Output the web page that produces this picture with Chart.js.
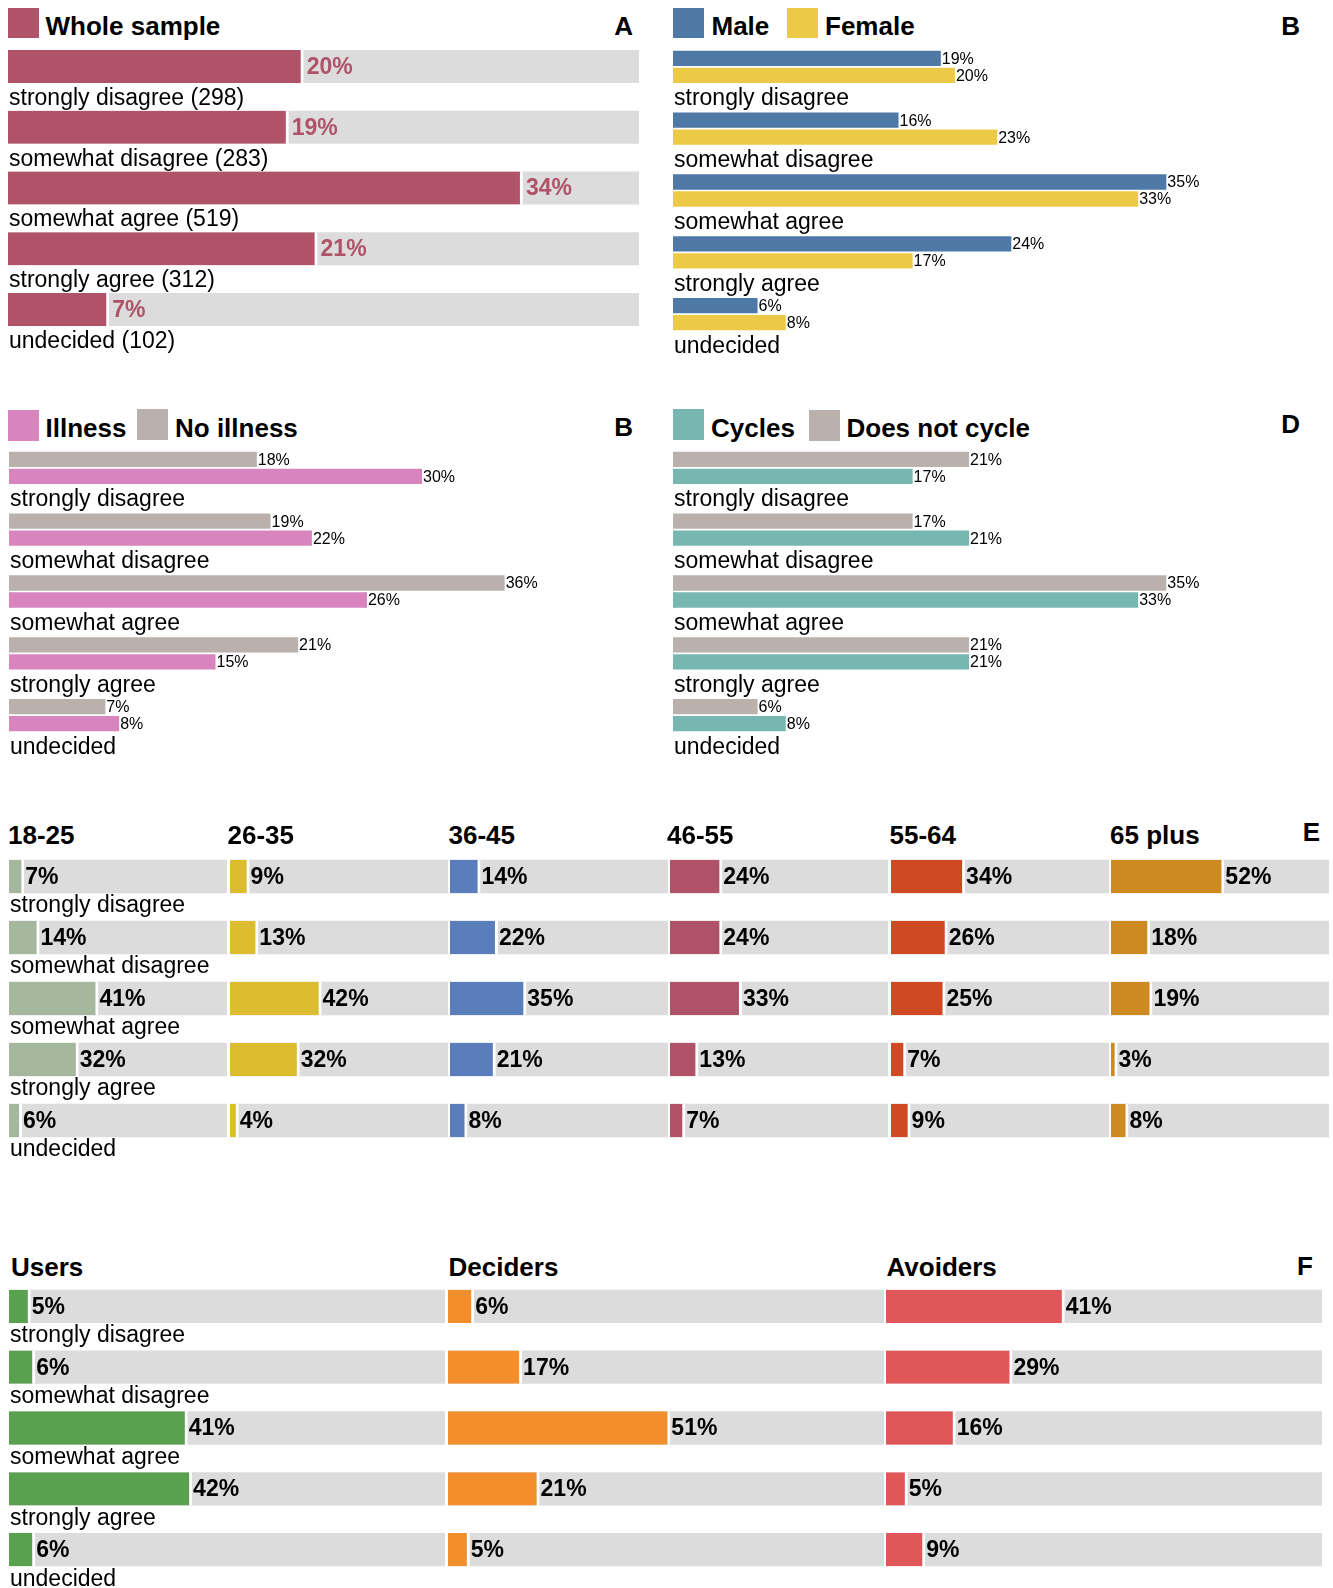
<!DOCTYPE html>
<html>
<head>
<meta charset="utf-8">
<script src="https://cdn.jsdelivr.net/npm/chart.js@4/dist/chart.umd.min.js"></script>
<style>
  html, body { margin: 0; padding: 0; background: #fff; }
  #page { position: relative; width: 1333px; height: 1588px; overflow: hidden;
          font-family: "Liberation Sans", Arial, Helvetica, sans-serif; color: #000; }
  .sw { position: absolute; }
  .tx { position: absolute; white-space: nowrap; height: 30px; line-height: 30px; }
  canvas { position: absolute; }
</style>
</head>
<body>
<div id="page"></div>
<script>
// ------------------------
// Data
// ------------------------
const CATEGORIES = ["strongly disagree", "somewhat disagree", "somewhat agree", "strongly agree", "undecided"];

// A - whole sample (respondent counts)
const wholeCounts = [298, 283, 519, 312, 102];
const WHOLE_AXIS_MAX = 636;

// B - gender (%)
const male = [19, 16, 35, 24, 6];
const female = [20, 23, 33, 17, 8];

// C - illness (%)
const noIllness = [18, 19, 36, 21, 7];
const illness = [30, 22, 26, 15, 8];

// D - cycling (%)
const doesNotCycle = [21, 17, 35, 21, 6];
const cycles = [17, 21, 33, 21, 8];

// E - age groups (%)
const AGE_GROUPS = ["18-25", "26-35", "36-45", "46-55", "55-64", "65 plus"];
const age18to25 = [7, 14, 41, 32, 6];
const age26to35 = [9, 13, 42, 32, 4];
const age36to45 = [14, 22, 35, 21, 8];
const age46to55 = [24, 24, 33, 13, 7];
const age55to64 = [34, 26, 25, 7, 9];
const age65plus = [52, 18, 19, 3, 8];

// F - user types (%)
const USER_TYPES = ["Users", "Deciders", "Avoiders"];
const users = [5, 6, 41, 42, 6];
const deciders = [6, 17, 51, 21, 5];
const avoiders = [41, 29, 16, 5, 9];

// ------------------------
// Styles
// ------------------------
const FONT = '"Liberation Sans", Arial, Helvetica, sans-serif';
const CAT_FONT = "23px " + FONT;
const BIG_PCT_FONT = "bold 23px " + FONT;
const SMALL_PCT_FONT = "16px " + FONT;
const TRACK = "#dcdcdc";
const WHOLE_COLOR = "#b05268";
const MALE_COLOR = "#4e79a7";
const FEMALE_COLOR = "#edc948";
const ILLNESS_COLOR = "#d884be";
const NO_COLOR = "#bab0ac";
const CYCLES_COLOR = "#76b7b2";
const AGE_COLORS = ["#a5b89e", "#dbbd2f", "#5a7dbc", "#b05268", "#cf4a23", "#ce8a20"];
const TYPE_COLORS = ["#59a14f", "#f28e2b", "#e15759"];

const page = document.getElementById("page");

// ------------------------
// Plugins
// ------------------------
const valueLabels = {
    id: "valueLabels",
    afterDatasetsDraw(chart) {
        const ctx = chart.ctx;
        chart.data.datasets.forEach((ds, i) => {
            if (!ds.valueLabels) return;
            const meta = chart.getDatasetMeta(i);
            ctx.save();
            ctx.font = ds.labelFont;
            ctx.fillStyle = ds.labelColor || "#000";
            ctx.textBaseline = "middle";
            meta.data.forEach((bar, j) => {
                ctx.fillText(ds.valueLabels[j], bar.x + (ds.labelGap || 2), bar.y + 1);
            });
            ctx.restore();
        });
    }
};

const categoryLabels = {
    id: "categoryLabels",
    afterDatasetsDraw(chart, args, opts) {
        if (!opts.show) return;
        const ctx = chart.ctx;
        ctx.save();
        ctx.font = CAT_FONT;
        ctx.fillStyle = "#000";
        ctx.textBaseline = "middle";
        chart.data.labels.forEach((label, j) => {
            let bottom = 0;
            chart.data.datasets.forEach((ds, i) => {
                const bar = chart.getDatasetMeta(i).data[j];
                bottom = Math.max(bottom, bar.y + bar.height / 2);
            });
            ctx.fillText(label, chart.chartArea.left + 1, bottom + (opts.gap || 13));
        });
        ctx.restore();
    }
};

Chart.register(valueLabels, categoryLabels);

// ------------------------
// Helpers
// ------------------------
function addText(str, x, cy, size, bold, alignRight) {
    const el = document.createElement("div");
    el.className = "tx";
    el.textContent = str;
    el.style.fontSize = size + "px";
    el.style.fontWeight = bold ? "bold" : "normal";
    el.style.top = (cy - 15) + "px";
    if (alignRight) el.style.right = (1333 - x) + "px";
    else el.style.left = x + "px";
    page.appendChild(el);
}

function addSwatch(x, y, w, h, color) {
    const el = document.createElement("div");
    el.className = "sw";
    el.style.cssText = `left:${x}px;top:${y}px;width:${w}px;height:${h}px;background:${color}`;
    page.appendChild(el);
}

function makeChart(cfg) {
    const width = Math.round(cfg.width);
    const height = Math.round(cfg.height);
    const w = width + (cfg.padRight || 0);
    const h = height + 34;
    const canvas = document.createElement("canvas");
    canvas.width = w;
    canvas.height = h;
    canvas.style.left = cfg.left + "px";
    canvas.style.top = cfg.top + "px";
    canvas.style.width = w + "px";
    canvas.style.height = h + "px";
    page.appendChild(canvas);
    return new Chart(canvas, {
        type: "bar",
        data: {
            labels: cfg.labels,
            datasets: cfg.datasets.map(d => Object.assign({
                categoryPercentage: cfg.catPct,
                barPercentage: cfg.barPct || 1,
                grouped: cfg.grouped !== false,
                borderWidth: 0
            }, d))
        },
        options: {
            indexAxis: "y",
            responsive: false,
            devicePixelRatio: 1,
            animation: false,
            events: [],
            layout: { padding: { top: 0, left: 0, right: w - width, bottom: h - height } },
            scales: {
                x: { display: false, min: 0, max: cfg.xMax },
                y: { display: false }
            },
            plugins: {
                legend: { display: false },
                tooltip: { enabled: false },
                categoryLabels: { show: cfg.showCats !== false, gap: cfg.labelGap || 13 }
            }
        }
    });
}

const pct = arr => arr.map(v => v + "%");

// ------------------------
// Panel A - whole sample
// ------------------------
const wholeTotal = wholeCounts.reduce((a, b) => a + b, 0);
addSwatch(7.5, 8.3, 31, 30, WHOLE_COLOR);
addText("Whole sample", 45.5, 26, 26, true);
addText("A", 633, 26, 26, true, true);
makeChart({
    left: 8, top: 36.4, width: 631, height: 304, labelGap: 15.5,
    xMax: WHOLE_AXIS_MAX, catPct: 0.543, grouped: false,
    labels: CATEGORIES.map((c, i) => `${c} (${wholeCounts[i]})`),
    datasets: [
        {
            data: wholeCounts, backgroundColor: WHOLE_COLOR,
            borderColor: "#fff", borderWidth: { top: 0, right: 3, bottom: 0, left: 0 },
            valueLabels: wholeCounts.map(n => Math.round(n / wholeTotal * 100) + "%"),
            labelFont: BIG_PCT_FONT, labelColor: WHOLE_COLOR, labelGap: 3
        },
        { data: CATEGORIES.map(() => WHOLE_AXIS_MAX), backgroundColor: TRACK }
    ]
});

// ------------------------
// Panel B - male / female
// ------------------------
addSwatch(672.6, 8.3, 31.4, 30, MALE_COLOR);
addText("Male", 711.5, 26, 26, true);
addSwatch(787, 8.3, 31.4, 30, FEMALE_COLOR);
addText("Female", 825, 26, 26, true);
addText("B", 1300, 26, 26, true, true);
makeChart({
    left: 672.6, top: 36.1, width: 592, height: 309, padRight: 60, labelGap: 16,
    xMax: 42, catPct: 0.55, barPct: 0.9,
    labels: CATEGORIES,
    datasets: [
        { data: male, backgroundColor: MALE_COLOR, valueLabels: pct(male), labelFont: SMALL_PCT_FONT, labelGap: 1 },
        { data: female, backgroundColor: FEMALE_COLOR, valueLabels: pct(female), labelFont: SMALL_PCT_FONT, labelGap: 1 }
    ]
});

// ------------------------
// Panel C - illness
// ------------------------
addSwatch(7.5, 410, 31, 30.7, ILLNESS_COLOR);
addText("Illness", 45.5, 427.5, 26, true);
addSwatch(137, 409, 31, 30.7, NO_COLOR);
addText("No illness", 175, 427.5, 26, true);
addText("B", 633, 427, 26, true, true);
makeChart({
    left: 8.6, top: 436.6, width: 592, height: 308.5, padRight: 60, labelGap: 16,
    xMax: 43, catPct: 0.55, barPct: 0.9,
    labels: CATEGORIES,
    datasets: [
        { data: noIllness, backgroundColor: NO_COLOR, valueLabels: pct(noIllness), labelFont: SMALL_PCT_FONT, labelGap: 1 },
        { data: illness, backgroundColor: ILLNESS_COLOR, valueLabels: pct(illness), labelFont: SMALL_PCT_FONT, labelGap: 1 }
    ]
});

// ------------------------
// Panel D - cycling
// ------------------------
addSwatch(672.6, 409, 31, 30.7, CYCLES_COLOR);
addText("Cycles", 711, 427.5, 26, true);
addSwatch(808.5, 410, 31, 30.7, NO_COLOR);
addText("Does not cycle", 846.5, 427.5, 26, true);
addText("D", 1300, 424, 26, true, true);
makeChart({
    left: 672.6, top: 436.6, width: 592, height: 308.5, padRight: 60, labelGap: 16,
    xMax: 42, catPct: 0.55, barPct: 0.9,
    labels: CATEGORIES,
    datasets: [
        { data: doesNotCycle, backgroundColor: NO_COLOR, valueLabels: pct(doesNotCycle), labelFont: SMALL_PCT_FONT, labelGap: 1 },
        { data: cycles, backgroundColor: CYCLES_COLOR, valueLabels: pct(cycles), labelFont: SMALL_PCT_FONT, labelGap: 1 }
    ]
});

// ------------------------
// Panel E - age groups
// ------------------------
const ageSeries = [age18to25, age26to35, age36to45, age46to55, age55to64, age65plus];
const AGE_COL_X = [9, 229.5, 450, 670.3, 890.6, 1110.9];
const AGE_HEAD_X = [8, 227.5, 448.5, 667, 889.5, 1110];
addText("E", 1320, 832, 26, true, true);
ageSeries.forEach((vals, k) => {
    addText(AGE_GROUPS[k], AGE_HEAD_X[k], 835, 26, true);
    makeChart({
        left: AGE_COL_X[k], top: 845.7, width: 217.5, height: 305,
        padRight: k === 0 ? 24 : 0, labelGap: 13,
        xMax: 100, catPct: 0.546, grouped: false, showCats: k === 0,
        labels: CATEGORIES,
        datasets: [
            {
                data: vals, backgroundColor: AGE_COLORS[k],
                borderColor: "#fff", borderWidth: { top: 0, right: 3, bottom: 0, left: 0 },
                valueLabels: pct(vals), labelFont: BIG_PCT_FONT, labelGap: 1
            },
            { data: CATEGORIES.map(() => 100), backgroundColor: TRACK }
        ]
    });
});

// ------------------------
// Panel F - user types
// ------------------------
const typeSeries = [users, deciders, avoiders];
const TYPE_COL_X = [9, 448, 886.4];
const TYPE_HEAD_X = [11, 448.5, 886.5];
addText("F", 1313, 1266, 26, true, true);
typeSeries.forEach((vals, k) => {
    addText(USER_TYPES[k], TYPE_HEAD_X[k], 1266.5, 26, true);
    makeChart({
        left: TYPE_COL_X[k], top: 1276.3, width: 436, height: 304, labelGap: 13,
        xMax: 100, catPct: 0.548, grouped: false, showCats: k === 0,
        labels: CATEGORIES,
        datasets: [
            {
                data: vals, backgroundColor: TYPE_COLORS[k],
                borderColor: "#fff", borderWidth: { top: 0, right: 3, bottom: 0, left: 0 },
                valueLabels: pct(vals), labelFont: BIG_PCT_FONT, labelGap: 1
            },
            { data: CATEGORIES.map(() => 100), backgroundColor: TRACK }
        ]
    });
});
</script>
</body>
</html>
